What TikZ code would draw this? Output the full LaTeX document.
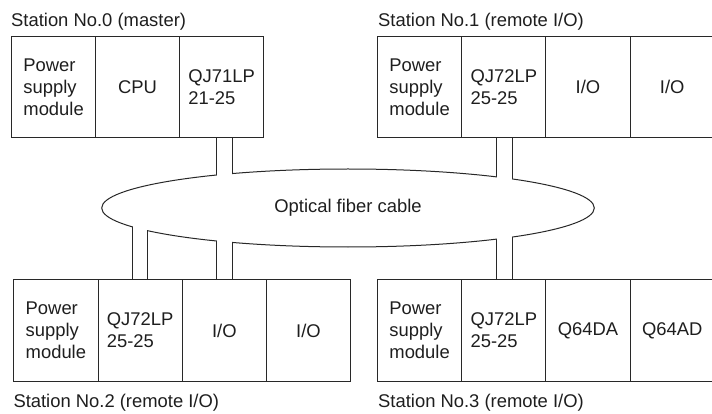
\documentclass[tikz,border=0pt]{standalone}
\usepackage{fontspec}
\setmainfont{Liberation Sans}
\usetikzlibrary{shapes.geometric}
\pgfdeclarelayer{background}
\pgfsetlayers{background,main}
\definecolor{linec}{RGB}{40,40,40}
\definecolor{textc}{RGB}{30,30,30}
\begin{document}
\begin{tikzpicture}[x=1pt,y=-1pt,
  txt/.style={text=textc, font=\fontsize{18.4}{22}\selectfont},
  modbox/.style={txt, draw=linec, line width=1pt, minimum width=84.2pt,
    minimum height=101.3pt, inner sep=0pt, align=left, anchor=north west},
  stlabel/.style={txt, inner sep=0pt, anchor=base west},
  fiber/.style={draw=linec, line width=1pt},
  gap/.style={fill=white, draw=none}]
\useasboundingbox (0,0) rectangle (712,414);

% Station 0
\node[stlabel] (l0) at (11,26.7) {Station No.0 (master)};
\node[modbox] (m00) at (11,36) {Power\\supply\\module};
\node[modbox] (m01) at (95,36) {CPU};
\node[modbox] (m02) at (179,36) {QJ71LP\\21-25};

% Station 1
\node[stlabel] (l1) at (378,26.7) {Station No.1 (remote I/O)};
\node[modbox] (m10) at (377,36) {Power\\supply\\module};
\node[modbox] (m11) at (461.2,36) {QJ72LP\\25-25};
\node[modbox] (m12) at (545.4,36) {I/O};
\node[modbox] (m13) at (629.6,36) {I/O};

% Station 2
\node[modbox] (m20) at (13.3,279.3) {Power\\supply\\module};
\node[modbox] (m21) at (97.5,279.3) {QJ72LP\\25-25};
\node[modbox] (m22) at (181.7,279.3) {I/O};
\node[modbox] (m23) at (265.9,279.3) {I/O};
\node[stlabel] (l2) at (13.3,407) {Station No.2 (remote I/O)};

% Station 3
\node[modbox] (m30) at (377,279.3) {Power\\supply\\module};
\node[modbox] (m31) at (461.2,279.3) {QJ72LP\\25-25};
\node[modbox] (m32) at (545.4,279.3) {Q64DA};
\node[modbox] (m33) at (629.6,279.3) {Q64AD};
\node[stlabel] (l3) at (378,407) {Station No.3 (remote I/O)};

% Optical fiber cable
\node[txt, ellipse, draw=linec, line width=1pt, fill=white, inner sep=0pt,
  minimum width=492.6pt, minimum height=78pt] (cab) at (348,208) {Optical fiber cable};

% cable pairs (under the ellipse)
\begin{pgfonlayer}{background}
\foreach \m/\s/\a/\b in {m02/south/-5/11, m11/south/-7.2/8.8, m21/north/-8/7.6,
    m22/north/-8/7.8, m31/north/-7.2/8.8}{
  \draw[fiber] ([xshift=\a pt]\m.\s) -- ([xshift=\a pt]\m.\s |- cab.center);
  \draw[fiber] ([xshift=\b pt]\m.\s) -- ([xshift=\b pt]\m.\s |- cab.center);
}
\end{pgfonlayer}

% openings in the ellipse outline
\foreach \m/\s/\a/\b/\ya/\yb in {m02/south/-5/11/160/195, m11/south/-7.2/8.8/160/195,
    m21/north/-8/7.6/212/255, m22/north/-8/7.8/220/260, m31/north/-7.2/8.8/220/260}{
  \fill[gap] ([xshift=\a pt+0.55pt]\m.\s |- 0,\ya) rectangle ([xshift=\b pt-0.55pt]\m.\s |- 0,\yb);
}
\end{tikzpicture}
\end{document}
